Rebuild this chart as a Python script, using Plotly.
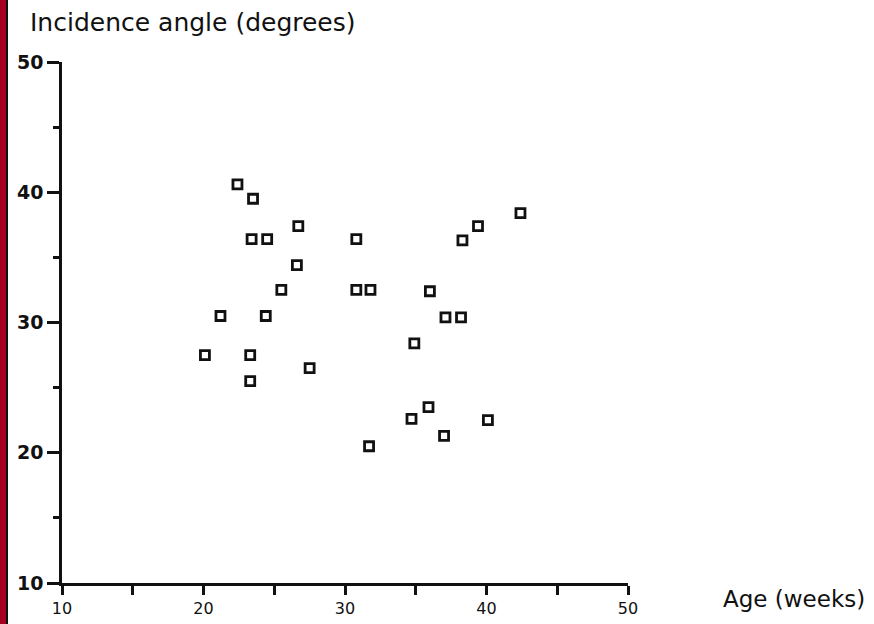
import plotly.graph_objects as go

# Data
age_weeks = [22.4, 23.5, 23.4, 24.5, 26.7, 26.6, 25.5, 21.2, 24.4, 20.1, 23.3, 23.3, 27.5,
             30.8, 30.8, 31.8, 34.9, 36.0, 37.1, 38.2, 38.3, 39.4, 42.4,
             31.7, 34.7, 35.9, 37.0, 40.1]
incidence_angle = [40.6, 39.5, 36.4, 36.4, 37.4, 34.4, 32.5, 30.5, 30.5, 27.5, 27.5, 25.5, 26.5,
                   36.4, 32.5, 32.5, 28.4, 32.4, 30.4, 30.4, 36.3, 37.4, 38.4,
                   20.5, 22.6, 23.5, 21.3, 22.5]

x_ticks = [10, 20, 30, 40, 50]
y_ticks = [10, 20, 30, 40, 50]
y_title = "Incidence angle (degrees)"
x_title = "Age (weeks)"

W, H = 874, 624
ML, MR, MT, MB = 62, 246, 62, 41
pw = W - ML - MR
ph = H - MT - MB

fig = go.Figure()
fig.add_trace(go.Scatter(
    x=age_weeks, y=incidence_angle, mode="markers",
    marker=dict(symbol="square-open", size=9, color="#111111",
                line=dict(width=2.8, color="#111111")),
    showlegend=False, hoverinfo="x+y",
))

axis_common = dict(
    showline=True, linecolor="#111111", linewidth=2.5,
    showgrid=False, zeroline=False, automargin=False,
    ticks="outside", tickcolor="#111111", tickwidth=2.5,
)

fig.update_xaxes(
    range=[10, 50], tickvals=x_ticks, ticklen=9,
    tickfont=dict(family="DejaVu Sans", size=16, color="#111111"),
    minor=dict(dtick=5, ticks="outside", ticklen=9, tickwidth=2.5, tickcolor="#111111"),
    **axis_common,
)
fig.update_yaxes(
    range=[10, 50], tickvals=y_ticks, ticklen=12,
    tickfont=dict(family="DejaVu Sans", size=19, color="#111111", weight="bold"),
    minor=dict(dtick=5, ticks="outside", ticklen=6, tickwidth=2.5, tickcolor="#111111"),
    **axis_common,
)

fig.add_annotation(
    text=y_title, xref="paper", yref="paper",
    x=(28 - ML) / pw, y=1 + (MT - 22) / ph,
    xanchor="left", yanchor="middle", showarrow=False,
    font=dict(family="DejaVu Sans", size=25, color="#111111"),
)
fig.add_annotation(
    text=x_title, xref="paper", yref="paper",
    x=(721 - ML) / pw, y=-(599 - (H - MB)) / ph,
    xanchor="left", yanchor="middle", showarrow=False,
    font=dict(family="DejaVu Sans", size=23, color="#111111"),
)

# dark red strip on the left edge of the scan
fig.add_shape(type="rect", xref="paper", yref="paper",
              x0=-ML / pw, x1=(6 - ML) / pw, y0=-1, y1=2,
              fillcolor="#a50021", line_width=0, layer="above")
fig.add_shape(type="rect", xref="paper", yref="paper",
              x0=(6 - ML) / pw, x1=(8 - ML) / pw, y0=-1, y1=2,
              fillcolor="#111111", line_width=0, layer="above")

fig.update_layout(
    width=W, height=H,
    margin=dict(l=ML, r=MR, t=MT, b=MB, autoexpand=False),
    paper_bgcolor="white", plot_bgcolor="white",
)

fig.write_html(
    "out.html",
    config={"displayModeBar": False},
    post_script="document.body.style.margin='0';document.body.style.overflow='hidden';",
)
